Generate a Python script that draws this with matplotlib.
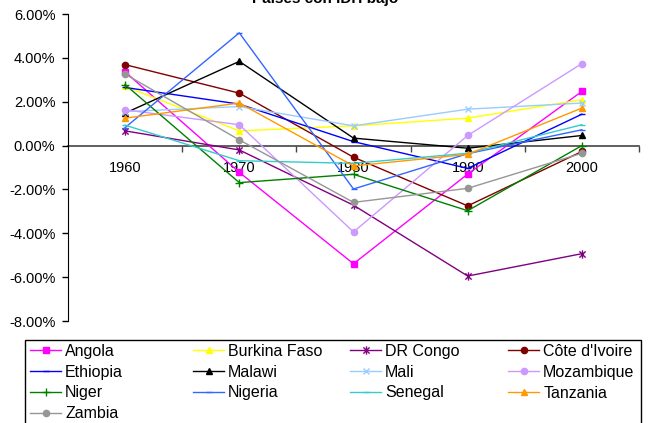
import matplotlib
matplotlib.use("Agg")
import matplotlib.pyplot as plt
from matplotlib.ticker import FuncFormatter, FixedLocator
from matplotlib.path import Path
from matplotlib.patches import Rectangle

plt.rcParams['font.family'] = ['Liberation Sans', 'DejaVu Sans']

years = ["1960", "1970", "1980", "1990", "2000"]
title = "Países con IDH bajo"

angola = [3.36, -1.22, -5.39, -1.30, 2.47]
burkina_faso = [2.70, 0.67, 0.90, 1.25, 2.09]
dr_congo = [0.67, -0.20, -2.72, -5.95, -4.93]
cote_divoire = [3.69, 2.39, -0.53, -2.75, -0.27]
ethiopia = [2.65, 1.89, 0.18, -1.04, 1.43]
malawi = [1.48, 3.84, 0.34, -0.12, 0.46]
mali = [1.55, 1.78, 0.90, 1.66, 1.94]
mozambique = [1.63, 0.95, -3.94, 0.46, 3.74]
niger = [2.78, -1.69, -1.31, -2.97, 0.00]
nigeria = [0.82, 5.14, -1.98, -0.37, 0.72]
senegal = [0.93, -0.69, -0.81, -0.35, 0.95]
tanzania = [1.25, 1.94, -0.93, -0.40, 1.71]
zambia = [3.26, 0.26, -2.59, -1.95, -0.35]

star = Path([(0, -1), (0, 1), (-0.75, -0.75), (0.75, 0.75), (-0.75, 0.75), (0.75, -0.75)],
            [Path.MOVETO, Path.LINETO, Path.MOVETO, Path.LINETO, Path.MOVETO, Path.LINETO])

series = [
    ("Angola", angola, "#FF00FF", "s", 4),
    ("Burkina Faso", burkina_faso, "#FFFF00", "^", 5),
    ("DR Congo", dr_congo, "#800080", star, 6),
    ("Côte d'Ivoire", cote_divoire, "#800000", "o", 4.5),
    ("Ethiopia", ethiopia, "#0000FF", "_", 4),
    ("Malawi", malawi, "#000000", "^", 5),
    ("Mali", mali, "#99CCFF", "x", 5),
    ("Mozambique", mozambique, "#CC99FF", "o", 4.5),
    ("Niger", niger, "#008000", "+", 6),
    ("Nigeria", nigeria, "#3366FF", "_", 4),
    ("Senegal", senegal, "#33CCCC", "_", 4),
    ("Tanzania", tanzania, "#FF9900", "^", 5),
    ("Zambia", zambia, "#969696", "o", 4.5),
]

W, H = 651, 423
fig = plt.figure(figsize=(W/100, H/100), dpi=100)
ax = fig.add_axes([68/W, 1-321/H, 571/W, 307/H])

x = list(range(len(years)))
handles = {}
for name, vals, col, mk, ms in series:
    ln, = ax.plot(x, vals, color=col, marker=mk, markersize=ms, linewidth=1.0,
                  markeredgewidth=1.0, markerfacecolor=col, markeredgecolor=col, label=name)
    handles[name] = ln

ax.set_xlim(-0.5, len(years) - 0.5)
ax.set_ylim(-8, 6)
ax.set_yticks([-8, -6, -4, -2, 0, 2, 4, 6])
ax.yaxis.set_major_formatter(FuncFormatter(lambda v, p: f"{v:.2f}%"))
ax.tick_params(axis='y', direction='out', length=4, width=1, pad=5, labelsize=10.5)

ax.spines['top'].set_visible(False)
ax.spines['right'].set_visible(False)
ax.spines['bottom'].set_position(('data', 0))
ax.spines['bottom'].set_color('#444444')
ax.spines['bottom'].set_linewidth(1.2)
ax.spines['bottom'].set_zorder(0)

ax.xaxis.set_major_locator(FixedLocator([0.5, 1.5, 2.5, 3.5, 4.5]))
ax.xaxis.set_major_formatter(FuncFormatter(lambda v, p: ""))
ax.xaxis.set_minor_locator(FixedLocator(x))
ax.set_xticklabels(years, minor=True)
ax.tick_params(axis='x', which='major', direction='out', length=4, width=1, color='#444444')
ax.tick_params(axis='x', which='minor', length=0, pad=11, labelsize=10.5)

fig.text(0.5, 1 - 3/H, title, ha='center', va='baseline', fontsize=11, fontweight='bold')

# legend: frame + four columns (row-major order like the original)
fig.add_artist(Rectangle((25/W, -0.05), 616/W, 1 - 340/H + 0.05, transform=fig.transFigure,
                         fill=False, edgecolor='black', linewidth=1.0))
columns = [
    (30, ["Angola", "Ethiopia", "Niger", "Zambia"]),
    (193, ["Burkina Faso", "Malawi", "Nigeria"]),
    (350, ["DR Congo", "Mali", "Senegal"]),
    (508, ["Côte d'Ivoire", "Mozambique", "Tanzania"]),
]
for xpos, names in columns:
    leg = fig.legend([handles[n] for n in names], names,
                     loc='upper left', bbox_to_anchor=(xpos/W, 1 - 344/H),
                     frameon=False, fontsize=11.5, handlelength=1.95, handletextpad=0.25,
                     labelspacing=0.36, borderpad=0, borderaxespad=0)

fig.savefig("out.png", dpi=100)
